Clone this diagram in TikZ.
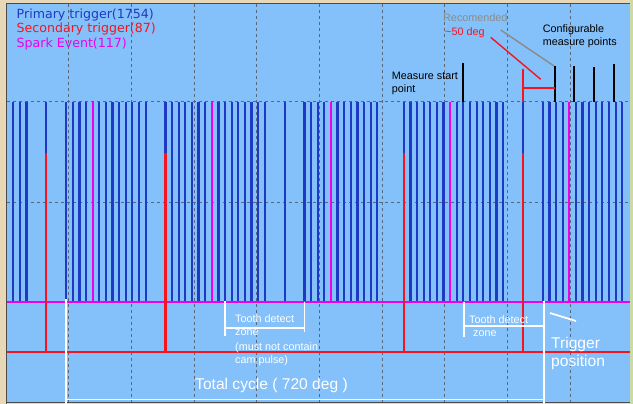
\documentclass[tikz,border=0pt]{standalone}
\usepackage{fontspec}
\setmainfont{Liberation Sans}
\newfontfamily\legendfont{DejaVu Sans}
\definecolor{scopebg}{RGB}{132,192,250}
\definecolor{framec}{RGB}{232,216,184}
\definecolor{edgec}{RGB}{205,218,165}
\definecolor{gridc}{RGB}{88,104,124}
\definecolor{primc}{RGB}{30,58,196}
\definecolor{secc}{RGB}{246,20,30}
\definecolor{sparkc}{RGB}{236,0,236}
\definecolor{recc}{RGB}{140,140,132}
\begin{document}
\begin{tikzpicture}[x=1pt,y=-1pt,
  every node/.style={inner sep=0pt,anchor=base west},
  gridline/.style={gridc,line width=1pt,dash pattern=on 3pt off 3pt},
  prim/.style={primc,line width=2.2pt},
  sec/.style={secc,line width=2.2pt},
  spark/.style={sparkc,line width=2.2pt},
  marker/.style={white,line width=1.8pt},
  small/.style={font=\fontsize{10.8}{13}\selectfont},
  big/.style={font=\fontsize{15.6}{18}\selectfont,text=white},
  legend/.style={font=\legendfont\fontsize{12.6}{15}\selectfont}]
\useasboundingbox (0,0) rectangle (633,404);
\fill[framec] (0,0) rectangle (633,404);
\fill[scopebg] (7,4) rectangle (629.5,402.5);
\fill[edgec] (629.5,0) rectangle (633,404);
\draw[black!70,line width=1pt] (6.5,404) -- (6.5,3.5) -- (629.5,3.5);
\draw[black!70,line width=1pt] (6.5,402.8) -- (629.5,402.8);
\foreach \gx in {0,...,8} \draw[gridline] ({68.6+62.7*\gx},4) -- ({68.6+62.7*\gx},402);
\foreach \gy in {102,202,302} \draw[gridline] (7,\gy) -- (629.5,\gy);
\foreach \ta/\tb in {0/2,5/5,8/11,13/20,23/29,31/38,41/41,44/47,49/55,59/65,67/74,77/77,80/83,85/92}
  \foreach \t in {\ta,...,\tb}
    \draw[prim] ({13.2+6.62*\t},102) -- ({13.2+6.62*\t},302);
\foreach \t in {12,30,48,66,84} \draw[spark] ({13.2+6.62*\t},102) -- ({13.2+6.62*\t},302);
\draw[sparkc,line width=2.4pt] (7,302) -- (629.5,302);
\draw[secc,line width=2.4pt] (7,352) -- (629.5,352);
\foreach \t in {5,23,59,77} \draw[sec] ({13.2+6.62*\t},153) -- ({13.2+6.62*\t},352);
\node[legend,text=primc] (primary) at (16.5,18.3) {Primary trigger(1754)};
\node[legend,text=secc] (secondary) at (16.5,32.7) {Secondary trigger(87)};
\node[legend,text=sparkc] (spark) at (16.5,47.3) {Spark Event(117)};
\node[small,text=recc] (recom) at (443,22) {Recomended};
\node[small,text=secc] (angle) at (445,35.3) {\textasciitilde 50 deg};
\node[small] (config) at (542.7,32.7) {Configurable};
\node[small] (configb) at (542.7,45.7) {measure points};
\node[small] (mstart) at (391.7,79.3) {Measure start};
\node[small] (mstartb) at (391.7,92.7) {point};
\coordinate (recfrom) at (500.7,30);
\coordinate (recto) at (554,66);
\coordinate (angfrom) at (490.7,37.3);
\coordinate (angto) at (540.7,79.3);
\draw[recc,line width=1.4pt] (recfrom) -- (recto);
\draw[secc,line width=1.4pt] (angfrom) -- (angto);
\draw[black,line width=2pt] (462.7,63) -- (462.7,102);
\foreach \mx/\my in {555/66,574/66,594/67,614/64} \draw[black,line width=2pt] (\mx,\my) -- (\mx,102);
\draw[secc,line width=2pt] (522.8,69) -- (522.8,102);
\draw[secc,line width=2pt] (522.8,87.7) -- (555,87.7);
\draw[marker] (66,299) -- (66,404);
\draw[marker] (544,301) -- (544,404);
\draw[marker] (66,399.5) -- (544,399.5);
\draw[marker] (225.3,301) -- (225.3,336);
\draw[marker] (225.3,328.3) -- (305,328.3);
\draw[marker] (304.5,301.5) -- (304.5,332);
\draw[marker] (464,301.5) -- (464,337);
\draw[marker] (464,326) -- (544,326);
\draw[marker] (550,313) -- (576,321);
\node[small,text=white] (zonea) at (235,322) {Tooth detect};
\node[small,text=white] (zoneb) at (235,335.7) {zone};
\node[small,text=white] (zonec) at (235,350) {(must not contain};
\node[small,text=white] (zoned) at (235,363.3) {cam pulse)};
\node[small,text=white] (zonee) at (469,323.3) {Tooth detect};
\node[small,text=white] (zonef) at (473,336) {zone};
\node[big] (total) at (195,389.3) {Total cycle ( 720 deg )};
\node[big] (trig) at (551,348.3) {Trigger};
\node[big] (trigb) at (551,366) {position};
\end{tikzpicture}
\end{document}
